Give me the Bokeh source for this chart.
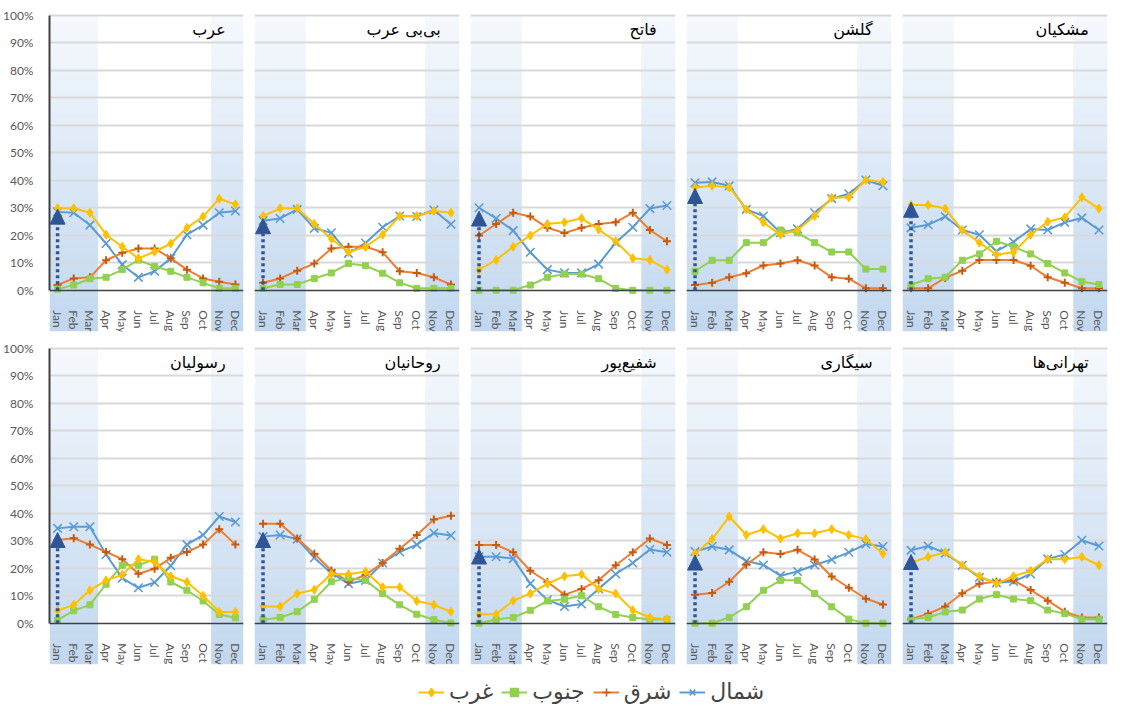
from bokeh.plotting import figure
from bokeh.layouts import column, row
from bokeh.models import (Range1d, FixedTicker, PrintfTickFormatter, Label, Arrow,
                          NormalHead, Legend, LegendItem, ColumnDataSource)
from bokeh.embed import file_html
from bokeh.resources import INLINE

# ---------------- data ----------------
months = ["Jan", "Feb", "Mar", "Apr", "May", "Jun", "Jul", "Aug", "Sep", "Oct", "Nov", "Dec"]
panel_names = ["عرب", "بی\u200cبی عرب", "فاتح", "گلشن", "مشکیان",
               "رسولیان", "روحانیان", "شفیع\u200cپور", "سیگاری", "تهرانی\u200cها"]
series_names = ["شمال", "شرق", "جنوب", "غرب"]
winter_spans = [("Jan", "Mar"), ("Nov", "Dec")]

# شمال (north)
north = [
    [28.5, 28.2, 23.7, 17.0, 9.3, 4.7, 6.9, 11.6, 20.2, 23.7, 28.2, 28.8],
    [25.3, 26.1, 29.4, 22.5, 20.9, 13.4, 17.2, 22.9, 27.0, 26.8, 29.2, 24.0],
    [30.0, 26.1, 21.7, 13.8, 7.5, 6.3, 6.3, 9.5, 17.3, 22.9, 29.7, 30.8],
    [39.1, 39.4, 38.0, 29.4, 27.0, 20.9, 22.3, 28.2, 33.3, 35.1, 40.1, 38.0],
    [22.7, 23.8, 26.8, 21.9, 20.2, 14.2, 17.6, 22.3, 21.9, 24.7, 26.3, 21.9],
    [34.5, 35.1, 35.1, 25.0, 16.4, 12.9, 14.8, 20.9, 28.6, 32.1, 38.8, 36.8],
    [31.5, 32.1, 30.6, 23.8, 18.2, 14.4, 15.6, 21.9, 25.9, 28.6, 32.8, 31.9],
    [24.2, 24.2, 23.5, 14.4, 8.5, 6.1, 7.0, 12.5, 17.9, 21.9, 26.8, 25.8],
    [26.1, 27.9, 26.7, 22.6, 21.2, 17.3, 18.8, 21.2, 23.2, 25.8, 28.8, 27.9],
    [26.5, 28.1, 25.5, 21.1, 16.7, 14.7, 15.2, 17.9, 23.4, 25.0, 30.2, 28.1],
]
# شرق (east)
east = [
    [1.9, 4.3, 4.7, 10.9, 13.6, 15.2, 15.2, 11.6, 7.5, 4.3, 3.1, 2.1],
    [2.7, 4.3, 7.1, 9.7, 15.2, 15.8, 15.8, 13.8, 6.9, 6.3, 4.7, 2.1],
    [19.9, 24.1, 28.2, 26.8, 22.7, 20.8, 22.7, 24.1, 24.7, 28.2, 21.9, 17.8],
    [1.9, 2.7, 4.7, 6.2, 9.0, 9.7, 10.9, 9.0, 4.7, 4.2, 0.7, 0.7],
    [0.7, 0.7, 4.5, 7.1, 11.0, 11.0, 11.0, 8.9, 4.7, 2.7, 0.7, 0.7],
    [30.3, 30.9, 28.6, 25.9, 23.3, 18.0, 19.8, 23.8, 25.9, 28.6, 34.2, 28.6],
    [36.2, 36.2, 30.8, 25.3, 19.2, 15.1, 17.6, 21.9, 27.1, 32.1, 37.7, 39.1],
    [28.5, 28.5, 25.8, 19.1, 15.0, 10.4, 12.5, 15.6, 21.1, 25.8, 30.8, 28.5],
    [10.4, 11.0, 15.1, 21.3, 25.8, 25.2, 26.7, 23.2, 17.0, 12.9, 8.9, 6.8],
    [1.5, 3.5, 6.1, 10.9, 14.4, 15.2, 15.6, 12.1, 8.2, 4.2, 2.1, 2.1],
]
# جنوب (south)
south = [
    [0.4, 1.9, 4.2, 4.7, 7.5, 11.0, 8.7, 6.9, 4.7, 2.7, 0.7, 0.7],
    [0.7, 2.1, 2.1, 4.3, 6.3, 9.7, 8.9, 6.2, 2.7, 0.7, 0.7, 0.7],
    [0.0, 0.0, 0.0, 1.9, 4.7, 5.9, 5.9, 4.2, 0.7, 0.0, 0.0, 0.0],
    [6.9, 10.9, 10.9, 17.3, 17.3, 21.9, 20.9, 17.3, 13.9, 13.9, 7.7, 7.7],
    [1.9, 4.2, 4.7, 10.9, 13.2, 17.8, 15.8, 13.2, 9.7, 6.3, 3.1, 2.1],
    [1.1, 4.6, 6.7, 14.2, 21.1, 21.1, 23.3, 15.0, 12.0, 8.1, 3.2, 2.0],
    [1.3, 2.1, 4.2, 8.7, 15.1, 16.5, 15.6, 10.8, 6.7, 3.3, 1.3, 0.1],
    [0.0, 1.4, 2.1, 4.7, 8.1, 8.7, 10.0, 6.0, 3.2, 2.1, 1.4, 1.4],
    [0.0, 0.0, 2.1, 6.0, 12.0, 15.6, 15.6, 10.8, 6.0, 1.5, 0.0, 0.0],
    [1.5, 2.1, 4.1, 4.8, 8.8, 10.4, 8.8, 8.2, 4.8, 3.5, 1.5, 1.5],
]
# غرب (west)
west = [
    [29.8, 29.8, 28.2, 20.2, 15.8, 11.6, 14.0, 17.0, 22.7, 26.8, 33.3, 31.2],
    [27.0, 29.8, 29.8, 24.1, 18.7, 13.8, 15.8, 20.2, 27.0, 27.0, 28.8, 28.2],
    [7.5, 11.0, 15.8, 19.9, 24.1, 24.7, 26.2, 22.1, 17.8, 11.6, 11.0, 7.5],
    [37.4, 38.0, 37.5, 29.4, 24.7, 20.2, 21.9, 27.0, 33.6, 33.8, 40.1, 39.4],
    [31.0, 31.0, 29.7, 21.9, 17.3, 13.0, 13.8, 20.2, 24.9, 26.5, 33.8, 29.7],
    [4.6, 6.7, 12.0, 15.6, 17.6, 23.3, 22.3, 17.1, 15.0, 10.0, 4.1, 4.1],
    [6.1, 6.1, 10.8, 12.2, 17.9, 17.8, 18.8, 13.1, 13.1, 8.1, 6.7, 4.2],
    [3.3, 3.3, 8.2, 10.8, 14.4, 17.1, 17.8, 12.5, 10.8, 4.7, 2.1, 1.4],
    [25.3, 30.6, 38.8, 32.1, 34.2, 30.8, 32.7, 32.7, 34.2, 32.1, 30.6, 25.3],
    [22.1, 24.1, 25.8, 21.1, 17.1, 14.4, 17.1, 19.1, 23.3, 23.3, 24.1, 21.1],
]
# tip of the dotted arrow at January, per panel
arrow_tips = [29.5, 26.0, 28.8, 37.0, 32.0, 33.0, 33.0, 27.0, 24.8, 25.0]
y_ticks = [0, 10, 20, 30, 40, 50, 60, 70, 80, 90, 100]

# ---------------- styles ----------------
BLUE, ORANGE, ORANGE_M, GREEN, YELLOW = "#5B9BD5", "#ED7D31", "#C55A11", "#92D050", "#FFC000"
ARROW = "#2F5597"
AXIS_TXT = "#595959"
LATIN = "Lato"
ARABIC = "DejaVu Sans"
Y0, Y1 = -15.0, 101.0
TOP_RGB = (246, 249, 253)
BOT_RGB = (193, 215, 239)


def hexc(rgb):
    return "#%02x%02x%02x" % tuple(int(round(c)) for c in rgb)


def add_bands(p):
    n = 48
    lefts, rights, tops, bottoms, colors = [], [], [], [], []
    h = (100.0 - Y0) / n
    for a, b in winter_spans:
        l = months.index(a) - 0.5
        r = months.index(b) + 0.5
        for k in range(n):
            top = 100.0 - k * h
            bot = top - h - (0.4 if k < n - 1 else 0.0)
            t = (k + 0.5) / n
            rgb = [TOP_RGB[c] + (BOT_RGB[c] - TOP_RGB[c]) * t for c in range(3)]
            lefts.append(l); rights.append(r); tops.append(top); bottoms.append(bot)
            colors.append(hexc(rgb))
    rr = p.quad(left=lefts, right=rights, top=tops, bottom=bottoms,
                fill_color=colors, line_color=None)
    rr.level = "image"


def make_panel(i, first):
    kw = dict(frame_width=194 if first else 205, frame_height=319,
              min_border_left=48 if first else 6, min_border_right=5,
              min_border_top=12, min_border_bottom=2,
              x_range=Range1d(-0.5, len(months) - 0.5), y_range=Range1d(Y0, Y1),
              toolbar_location=None, output_backend="svg")
    p = figure(**kw)
    p.outline_line_color = None
    p.background_fill_color = "white"
    p.border_fill_color = "white"
    add_bands(p)

    # grid
    p.xgrid.visible = False
    p.ygrid.ticker = FixedTicker(ticks=y_ticks[1:])
    p.ygrid.grid_line_color = "#D9D9D9"
    p.ygrid.grid_line_width = 2

    # x axis at 0 inside the frame
    xa = p.xaxis[0]
    xa.fixed_location = 0
    xa.ticker = FixedTicker(ticks=list(range(len(months))))
    xa.major_label_overrides = {k: m for k, m in enumerate(months)}
    xa.major_label_orientation = "vertical"
    xa.major_label_standoff = 14
    xa.major_tick_line_color = None
    xa.minor_tick_line_color = None
    xa.axis_line_color = "#404040"
    xa.axis_line_width = 1.5
    xa.major_label_text_color = AXIS_TXT
    xa.major_label_text_font = LATIN
    xa.major_label_text_font_size = "12px"

    ya = p.yaxis[0]
    if first:
        ya.ticker = FixedTicker(ticks=y_ticks)
        ya.formatter = PrintfTickFormatter(format="%d%%")
        ya.bounds = (0, 100)
        ya.axis_line_color = "#404040"
        ya.axis_line_width = 2
        ya.major_tick_line_color = None
        ya.minor_tick_line_color = None
        ya.major_label_standoff = 10
        ya.major_label_text_color = AXIS_TXT
        ya.major_label_text_font = LATIN
        ya.major_label_text_font_size = "12px"
    else:
        ya.visible = False

    xs = list(range(len(months)))
    src = ColumnDataSource(dict(x=xs, n=north[i], e=east[i], s=south[i], w=west[i]))
    p.line("x", "n", source=src, line_color=BLUE, line_width=2)
    p.scatter("x", "n", source=src, marker="x", size=12, line_color=BLUE, line_width=1.6)
    p.line("x", "e", source=src, line_color=ORANGE, line_width=2)
    p.scatter("x", "e", source=src, marker="cross", size=8, line_color=ORANGE_M, line_width=2)
    p.line("x", "s", source=src, line_color=GREEN, line_width=2)
    p.scatter("x", "s", source=src, marker="square", size=6, fill_color=GREEN, line_color=GREEN)
    p.line("x", "w", source=src, line_color=YELLOW, line_width=2)
    p.scatter("x", "w", source=src, marker="diamond", size=9, fill_color=YELLOW, line_color=YELLOW)

    p.add_layout(Arrow(x_start=0, y_start=0, x_end=0, y_end=arrow_tips[i],
                       line_color=ARROW, line_width=3.5, line_dash="3 3",
                       end=NormalHead(size=15, fill_color=ARROW, line_color=ARROW)))

    p.add_layout(Label(x=10.4, y=94.8, text=panel_names[i], text_align="right",
                       text_baseline="middle", text_font=ARABIC, text_font_size="16px",
                       text_color="black"))
    return p


figs = [make_panel(i, i % 5 == 0) for i in range(10)]

# legend figure (proxy renderers hold a single NaN so nothing is drawn in the frame)
lg = figure(width=1111, height=40, x_range=Range1d(0, 1), y_range=Range1d(0, 1),
            toolbar_location=None, output_backend="svg", min_border=0)
lg.axis.visible = False
lg.grid.visible = False
lg.outline_line_color = None
proxy = ColumnDataSource(dict(x=[float("nan")], y=[float("nan")]))
specs = {
    "شمال": (BLUE, "x", BLUE, 9),
    "شرق": (ORANGE, "cross", ORANGE_M, 7),
    "جنوب": (GREEN, "square", GREEN, 7),
    "غرب": (YELLOW, "diamond", YELLOW, 9),
}
items = []
for name in ["غرب", "جنوب", "شرق", "شمال"]:
    col, mk, mcol, sz = specs[name]
    r1 = lg.line("x", "y", source=proxy, line_color=col, line_width=2)
    r2 = lg.scatter("x", "y", source=proxy, marker=mk, size=sz, fill_color=mcol,
                    line_color=mcol, line_width=1.6)
    items.append(LegendItem(label=name, renderers=[r1, r2]))
legend = Legend(items=items, orientation="horizontal", location=(418, 2),
                label_text_font=ARABIC, label_text_font_size="22px",
                glyph_width=26, glyph_height=20, label_standoff=5, spacing=8,
                padding=0, margin=0, border_line_color=None, background_fill_alpha=0)
lg.add_layout(legend)

layout = column(row(*figs[:5]), row(*figs[5:]), lg)
open("out.html", "w").write(file_html(layout, INLINE))
